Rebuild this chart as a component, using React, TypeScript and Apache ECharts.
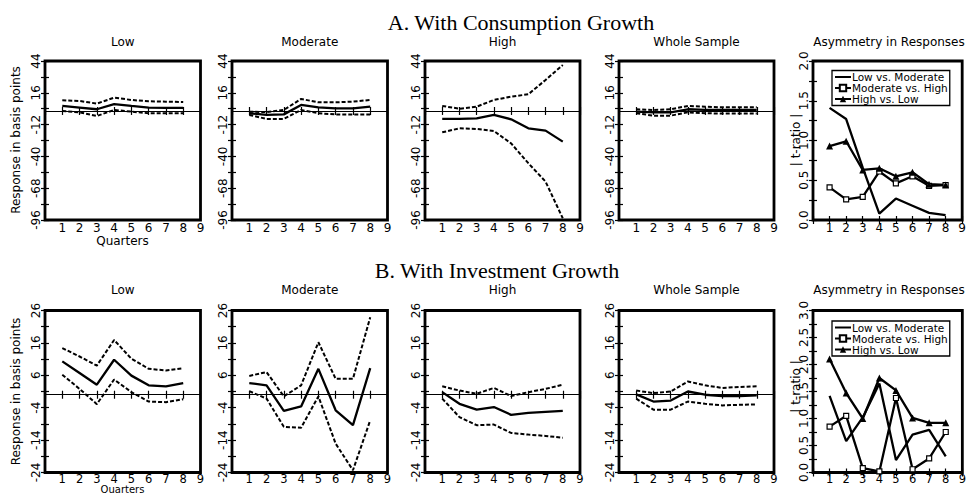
import React, { useEffect, useRef } from 'react';
import * as echarts from 'echarts';

// ---------- data ----------
const quarters = [1, 2, 3, 4, 5, 6, 7, 8];
const xTickLabels = [1, 2, 3, 4, 5, 6, 7, 8, 9];

const yTicksA = [-96, -68, -40, -12, 16, 44];
const yMinorA = [-96, -82, -68, -54, -40, -26, -12, 2, 16, 30, 44];
const yTicksB = [-24, -14, -4, 6, 16, 26];
const yMinorB = [-24, -19, -14, -9, -4, 1, 6, 11, 16, 21, 26];
const tTicksA = [0, 0.5, 1.0, 1.5, 2.0];
const tMinorA = [0, 0.25, 0.5, 0.75, 1.0, 1.25, 1.5, 1.75, 2.0];
const tTicksB = [0, 0.5, 1.0, 1.5, 2.0, 2.5, 3.0];
const tMinorB = [0, 0.25, 0.5, 0.75, 1.0, 1.25, 1.5, 1.75, 2.0, 2.25, 2.5, 2.75, 3.0];

const panelTitles = ['Low', 'Moderate', 'High', 'Whole Sample', 'Asymmetry in Responses'];
const legendNames = ['Low vs. Moderate', 'Moderate vs. High', 'High vs. Low'];

// Panel A: with consumption growth
const lowA_mid = [4.4, 3.0, 1.5, 6.1, 4.4, 3.0, 2.8, 2.8];
const lowA_up = [9.4, 8.8, 6.5, 11.7, 9.7, 8.5, 8.2, 7.9];
const lowA_lo = [0, -1.2, -4.4, 0.9, -0.6, -2, -2, -2];
const modA_mid = [-2, -3.5, -3, 5.3, 3.2, 2.3, 2.3, 3.8];
const modA_up = [-0.6, -1, 0.9, 10.6, 7.6, 7.6, 8.2, 9.7];
const modA_lo = [-3.5, -7, -7, 0.9, -2, -3, -3.2, -3.2];
const highA_mid = [-7, -7, -6.5, -3.5, -7.3, -15.3, -17.3, -27];
const highA_up = [4.4, 2, 3.8, 9.7, 12.6, 14.7, 27.3, 40.5];
const highA_lo = [-18.8, -15.3, -15.8, -17.6, -28.5, -46, -62.2, -94.5];
const wholeA_mid = [-0.6, -1.2, -1.2, 1.5, 0.9, 0.9, 0.9, 0.9];
const wholeA_up = [1.5, 0.9, 1.5, 4.4, 3.8, 3.2, 3.2, 3.2];
const wholeA_lo = [-2, -4.1, -4.1, -1.2, -2, -2.3, -2.3, -2.3];
const asymA_lm = [1.41, 1.27, 0.66, 0.08, 0.27, 0.18, 0.09, 0.06];
const asymA_mh = [0.41, 0.26, 0.29, 0.61, 0.46, 0.55, 0.43, 0.44];
const asymA_hl = [0.93, 0.99, 0.63, 0.65, 0.55, 0.6, 0.45, 0.44];

// Panel B: with investment growth
const lowB_mid = [10.3, 6.7, 3.1, 10.8, 5.9, 2.9, 2.6, 3.6];
const lowB_up = [14.4, 11.8, 9.0, 16.9, 11.1, 8.0, 7.5, 8.2];
const lowB_lo = [6.2, 1.8, -2.9, 4.7, 0.8, -2.1, -2.3, -1.4];
const modB_mid = [3.6, 2.9, -5.0, -3.6, 8.0, -4.8, -9.4, 8.2];
const modB_up = [5.8, 7.0, -0.5, 2.9, 16.2, 4.9, 4.9, 23.9];
const modB_lo = [1.1, -1.2, -9.9, -10.2, -0.5, -15.1, -23.3, -7.9];
const highB_mid = [0.8, -2.8, -4.6, -3.8, -6.2, -5.6, -5.3, -5.0];
const highB_up = [2.6, 1.3, 0.3, 2.1, -0.4, 0.8, 1.8, 3.1];
const highB_lo = [-1.2, -6.9, -9.4, -9.2, -11.8, -12.3, -12.7, -13.3];
const wholeB_mid = [0.1, -2.1, -1.8, 1.0, 0, -0.4, -0.4, -0.2];
const wholeB_up = [1.3, 0.5, 1.0, 4.1, 2.9, 2.1, 2.4, 2.6];
const wholeB_lo = [-1.2, -4.6, -4.6, -2.1, -2.8, -3.3, -3.1, -3.0];
const asymB_lm = [1.42, 0.58, 1.02, 1.65, 0.23, 0.7, 0.79, 0.3];
const asymB_mh = [0.85, 1.05, 0.08, 0.02, 1.38, 0.06, 0.26, 0.75];
const asymB_hl = [2.1, 1.47, 1.0, 1.75, 1.52, 1.01, 0.92, 0.92];

// ---------- layout ----------
const SANS = 'DejaVu Sans';
const SERIF = 'Liberation Serif';
const colLefts = [45, 232, 425, 619, 813];
const colWidths = [155.5, 155.5, 155, 155, 158];
const rowTops = [61, 310.5];
const rowHeights = [159, 162];

type Panel = {
  row: number;
  col: number;
  kind: 'resp' | 'asym';
  series: number[][];
};

const panels: Panel[] = [
  { row: 0, col: 0, kind: 'resp', series: [lowA_mid, lowA_up, lowA_lo] },
  { row: 0, col: 1, kind: 'resp', series: [modA_mid, modA_up, modA_lo] },
  { row: 0, col: 2, kind: 'resp', series: [highA_mid, highA_up, highA_lo] },
  { row: 0, col: 3, kind: 'resp', series: [wholeA_mid, wholeA_up, wholeA_lo] },
  { row: 0, col: 4, kind: 'asym', series: [asymA_lm, asymA_mh, asymA_hl] },
  { row: 1, col: 0, kind: 'resp', series: [lowB_mid, lowB_up, lowB_lo] },
  { row: 1, col: 1, kind: 'resp', series: [modB_mid, modB_up, modB_lo] },
  { row: 1, col: 2, kind: 'resp', series: [highB_mid, highB_up, highB_lo] },
  { row: 1, col: 3, kind: 'resp', series: [wholeB_mid, wholeB_up, wholeB_lo] },
  { row: 1, col: 4, kind: 'asym', series: [asymB_lm, asymB_mh, asymB_hl] },
];

const pairs = (vals: number[]) => quarters.map((q, i) => [q, vals[i]]);

function txt(text: string, x: number, y: number, size: number, family: string, rot = 0, lh?: number) {
  return {
    type: 'text',
    x,
    y,
    rotation: rot,
    silent: true,
    style: {
      text,
      x: 0,
      y: 0,
      font: `normal ${size}px "${family}"`,
      fill: '#000',
      align: 'center',
      verticalAlign: 'middle',
      textAlign: 'center',
      textVerticalAlign: 'middle',
      ...(lh ? { lineHeight: lh } : {}),
    },
  };
}

function buildOption() {
  const grid: any[] = [];
  const xAxis: any[] = [];
  const yAxis: any[] = [];
  const series: any[] = [];
  const tickStyle = { color: '#000', width: 1.2 };

  panels.forEach((p, i) => {
    grid.push({
      left: colLefts[p.col],
      top: rowTops[p.row],
      width: colWidths[p.col],
      height: rowHeights[p.row],
      show: true,
      borderColor: '#000',
      borderWidth: 2.8,
      backgroundColor: 'transparent',
      containLabel: false,
    });
    const isA = p.row === 0;
    const xBase = {
      gridIndex: i,
      type: 'value',
      min: 0,
      max: 9,
      interval: 1,
      axisLine: { show: false },
      axisTick: { inside: true, length: 4, lineStyle: tickStyle },
      splitLine: { show: false },
    };
    xAxis.push({
      ...xBase,
      position: 'bottom',
      axisLabel: {
        margin: isA ? 2.5 : 1.5,
        color: '#000',
        fontSize: isA ? 12 : 11.5,
        lineHeight: 10,
        fontFamily: SANS,
        customValues: xTickLabels,
      },
    });
    xAxis.push({ ...xBase, position: 'top', axisLabel: { show: false } });

    let min: number, max: number, majors: number[], minors: number[];
    if (p.kind === 'resp') {
      min = isA ? -96 : -24;
      max = isA ? 44 : 26;
      majors = isA ? yTicksA : yTicksB;
      minors = isA ? yMinorA : yMinorB;
    } else {
      min = 0;
      max = isA ? 2 : 3;
      majors = isA ? tTicksA : tTicksB;
      minors = isA ? tMinorA : tMinorB;
    }
    const yBase = {
      gridIndex: i,
      type: 'value',
      min,
      max,
      axisLine: { show: false },
      axisTick: { inside: true, length: 4, lineStyle: tickStyle, customValues: minors },
      splitLine: { show: false },
    };
    yAxis.push({
      ...yBase,
      position: 'left',
      axisLabel: {
        rotate: 90,
        margin: 3,
        color: '#000',
        fontSize: 12,
        fontFamily: SANS,
        customValues: majors,
        formatter: (v: number) => (p.kind === 'asym' ? v.toFixed(1) : String(v)),
      },
    });
    yAxis.push({ ...yBase, position: 'right', axisLabel: { show: false } });

    if (p.kind === 'resp') {
      const [mid, up, lo] = p.series;
      series.push({
        type: 'line',
        xAxisIndex: 2 * i,
        yAxisIndex: 2 * i,
        data: pairs(mid),
        symbol: 'none',
        lineStyle: { color: '#000', width: 2.3 },
        z: 3,
        markLine: {
          silent: true,
          symbol: ['none', 'none'],
          label: { show: false },
          lineStyle: { color: '#000', width: 1, type: 'solid' },
          data: [{ yAxis: 0 }],
        },
      });
      [up, lo].forEach((v) =>
        series.push({
          type: 'line',
          xAxisIndex: 2 * i,
          yAxisIndex: 2 * i,
          data: pairs(v),
          symbol: 'none',
          lineStyle: { color: '#000', width: 2, type: [4, 2] },
          z: 3,
        })
      );
    } else {
      const [lm, mh, hl] = p.series;
      series.push({
        type: 'line',
        name: legendNames[0],
        xAxisIndex: 2 * i,
        yAxisIndex: 2 * i,
        data: pairs(lm),
        symbol: 'none',
        color: '#000',
        lineStyle: { color: '#000', width: 2.3 },
      });
      series.push({
        type: 'line',
        name: legendNames[1],
        xAxisIndex: 2 * i,
        yAxisIndex: 2 * i,
        data: pairs(mh),
        symbol: 'rect',
        symbolSize: 5,
        showAllSymbol: true,
        color: '#000',
        lineStyle: { color: '#000', width: 2.3 },
        itemStyle: { color: '#fff', borderColor: '#000', borderWidth: 1.2 },
      });
      series.push({
        type: 'line',
        name: legendNames[2],
        xAxisIndex: 2 * i,
        yAxisIndex: 2 * i,
        data: pairs(hl),
        symbol: 'triangle',
        symbolSize: 7,
        showAllSymbol: true,
        color: '#000',
        lineStyle: { color: '#000', width: 2.3 },
        itemStyle: { color: '#000' },
      });
    }
  });

  const legendBase = {
    data: [
      { name: legendNames[0], itemStyle: { opacity: 0 } },
      { name: legendNames[1] },
      { name: legendNames[2] },
    ],
    orient: 'vertical',
    left: 832,
    backgroundColor: '#fff',
    borderColor: '#000',
    borderWidth: 1.3,
    padding: [1, 2, 1, 2],
    itemGap: 0,
    itemWidth: 16,
    itemHeight: 8,
    selectedMode: false,
    textStyle: { color: '#000', fontSize: 10.5, fontFamily: SANS, lineHeight: 8.7, padding: [0, 0, 0, -4] },
  };

  const graphic: any[] = [
    txt('A. With Consumption Growth', 521, 22.5, 22, SERIF),
    txt('B. With Investment Growth', 497, 270, 22, SERIF),
  ];
  panels.forEach((p) => {
    const cx = colLefts[p.col] + colWidths[p.col] / 2 - (p.col === 4 ? 3 : 0);
    graphic.push(txt(panelTitles[p.col], cx, p.row === 0 ? 41.7 : 290, 12, SANS));
  });
  graphic.push(txt('Quarters', 122.5, 240.5, 12, SANS, 0, 10));
  graphic.push(txt('Quarters', 122.5, 489, 10, SANS, 0, 8));
  graphic.push(txt('Response in basis points', 16, 140, 12, SANS, Math.PI / 2));
  graphic.push(txt('Response in basis points', 16, 391.5, 12, SANS, Math.PI / 2));
  graphic.push(txt('| t-ratio |', 795.5, 140, 12, SANS, Math.PI / 2));
  graphic.push(txt('| t-ratio |', 795.5, 386.5, 12, SANS, Math.PI / 2));

  return {
    animation: false,
    backgroundColor: '#fff',
    grid,
    xAxis,
    yAxis,
    series,
    legend: [
      { ...legendBase, top: 70.5 },
      { ...legendBase, top: 321 },
    ],
    graphic,
  };
}

export default function App() {
  const ref = useRef<HTMLDivElement>(null);
  useEffect(() => {
    if (!ref.current) return;
    const chart = echarts.init(ref.current, null, { renderer: 'svg' });
    chart.setOption(buildOption() as any);
    return () => chart.dispose();
  }, []);
  return (
    <div
      ref={ref}
      style={{ position: 'absolute', left: 0, top: 0, width: 969, height: 493, background: '#fff' }}
    />
  );
}
